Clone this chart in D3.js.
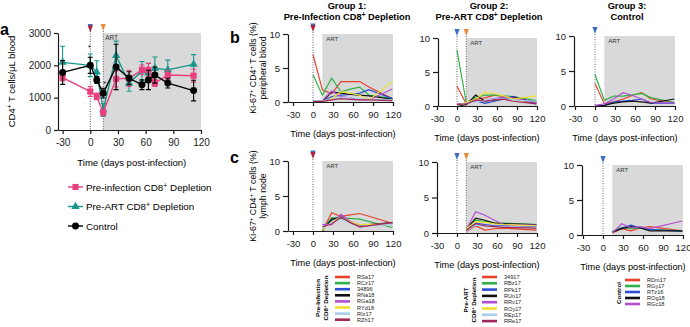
<!DOCTYPE html>
<html>
<head>
<meta charset="utf-8">
<script src="https://cdn.jsdelivr.net/npm/d3@7"></script>
<style>
  body { margin: 0; background: #fff; }
  svg text { font-family: "Liberation Sans", Arial, Helvetica, sans-serif; }
</style>
</head>
<body>
<script>
// ---- panel a: CD4 counts (mean +/- sem) ----
const aDays = [-30, 0, 7, 14, 28, 42, 56, 63, 70, 84, 112];
const aPreInf = [1620, 1190, 1040, 540, 1580, 1600, 1860, 1860, 1450, 1700, 1680];
const aPreInfErr = [100, 150, 100, 100, 250, 250, 150, 200, 100, 150, 200];
const aPreArt = [2090, 2000, 1790, 620, 2300, 1450, 1820, 1760, 1910, 1860, 2030];
const aPreArtErr = [500, 350, 350, 200, 450, 250, 300, 300, 350, 300, 300];
const aControl = [1780, 2000, 1550, 1140, 1950, 1600, 1400, 1550, 1700, 1450, 1220];
const aControlErr = [370, 250, 100, 150, 700, 200, 150, 300, 250, 150, 320];
const aTicksY = [0, 1000, 2000, 3000];
const dayTicks = [-30, 0, 30, 60, 90, 120];

// ---- panels b / c: Ki-67+ per animal ----
const bloodDays = [0, 14, 28, 42, 56, 70, 84, 119];
const lnDays = [14, 28, 42, 56, 70, 119];
const kiTicks = [0, 5, 10];

const g1Animals = ["RSa17", "RCz17", "34896", "RNa18", "RGa18", "RYd18", "RIz17", "RZh17"];
const g2Animals = ["34917", "RBz17", "RPk17", "RUn17", "RRv17", "ROy17", "REp17", "RRe17"];
const g3Animals = ["RDm17", "RGy17", "RTz16", "ROg18", "RGc18"];
const animalColors = ["#e8412c", "#2fb24a", "#2b4fd6", "#111111", "#b24fd3", "#f2e030", "#a9cdec", "#a3285a"];

const g1Blood = [
  [7.0, 1.8, 1.2, 3.0, 3.0, 3.0, 2.2, 0.5],
  [4.0, 1.0, 3.5, 1.5, 1.9, 2.2, 1.0, 0.5],
  [0.1, 0.1, 0.8, 1.0, 1.1, 1.3, 1.8, 0.5],
  [0.0, 0.0, 1.5, 1.3, 1.1, 1.0, 0.9, 0.4],
  [0.2, 0.2, 1.6, 0.8, 0.6, 0.4, 0.3, 1.9],
  [0.1, 0.1, 0.5, 1.5, 1.3, 1.0, 0.3, 3.0],
  [0.2, 0.2, 0.4, 0.7, 0.6, 0.5, 0.4, 0.3],
  [0.1, 0.1, 0.3, 0.5, 0.4, 0.3, 0.3, 0.2]
];
const g2Blood = [
  [2.9, 0.3, 1.0, 1.2, 1.6, 1.4, 1.1, 0.3],
  [8.2, 0.4, 1.3, 1.6, 1.6, 1.5, 1.4, 0.8],
  [0.1, 0.3, 0.8, 0.4, 0.7, 1.0, 1.4, 0.3],
  [0.0, 0.2, 1.6, 0.7, 0.9, 1.1, 1.3, 0.5],
  [0.3, 0.4, 0.7, 0.8, 1.1, 1.3, 1.2, 0.5],
  [0.1, 0.5, 1.0, 2.0, 1.8, 1.5, 1.0, 1.5],
  [0.1, 0.4, 0.6, 0.8, 1.0, 1.1, 0.9, 0.7],
  [0.2, 0.3, 0.9, 0.7, 0.9, 1.0, 0.7, 0.3]
];
const g3Blood = [
  [3.2, 0.3, 0.6, 1.0, 1.5, 1.9, 1.0, 0.5],
  [4.5, 0.8, 1.4, 1.4, 1.6, 1.8, 1.2, 0.5],
  [0.0, 0.1, 0.6, 0.7, 0.8, 1.0, 0.4, 0.4],
  [0.0, 0.1, 0.4, 0.6, 0.7, 0.6, 0.4, 1.0],
  [0.1, 0.3, 1.0, 1.9, 1.5, 1.0, 0.5, 0.4]
];
const g1LN = [
  [0.0, 2.6, 2.1, 2.3, 2.5, 1.1],
  [0.1, 1.9, 1.8, 1.8, 1.7, 0.5],
  [0.2, 1.5, 2.2, 1.2, 0.8, 1.1],
  [0.0, 1.7, 1.9, 1.3, 0.8, 1.2],
  [0.9, 0.9, 2.4, 1.4, 0.6, 1.2],
  [0.1, 1.3, 2.0, 1.3, 0.9, 1.0],
  [0.3, 1.2, 1.7, 1.1, 0.7, 0.9],
  [0.6, 1.0, 2.0, 1.2, 0.6, 1.2]
];
const g2LN = [
  [0.2, 1.0, 0.4, 0.6, 0.7, 0.4],
  [0.7, 1.8, 1.6, 1.4, 1.4, 1.2],
  [0.5, 1.4, 1.2, 1.0, 1.0, 0.9],
  [0.5, 2.1, 1.8, 1.4, 1.3, 1.2],
  [0.5, 3.0, 2.5, 1.8, 1.2, 1.1],
  [0.6, 1.6, 1.5, 1.3, 1.2, 1.0],
  [0.3, 1.1, 1.0, 0.9, 0.9, 0.8],
  [0.4, 1.3, 1.0, 0.9, 0.8, 0.7]
];
const g3LN = [
  [0.3, 0.9, 0.6, 1.0, 1.2, 0.6],
  [0.5, 1.1, 0.9, 1.0, 0.8, 0.6],
  [0.4, 1.0, 1.4, 1.0, 0.8, 0.5],
  [0.4, 0.9, 1.2, 1.0, 0.6, 0.6],
  [0.3, 1.6, 1.0, 1.2, 0.9, 2.0]
];

const FONT = '"Liberation Sans", Arial, Helvetica, sans-serif';
const RED_TRI = "#b0233f", BLUE_TRI = "#3f6fc2", ORANGE_TRI = "#e98a3c";
const GREY = "#d9d9d9";
const plain = d => String(d); // "-30" with hyphen, "3000" without comma

const svg = d3.select("body").append("svg")
  .attr("width", 690).attr("height", 327);

// text with {+} style superscripts
function rich(sel, str) {
  str.split(/\{(.*?)\}/).forEach((p, i) => {
    if (!p) return;
    const t = sel.append("tspan").text(p);
    if (i % 2) t.attr("baseline-shift", "super").attr("font-size", "70%");
  });
  return sel;
}

function styleAxis(g, fs) {
  g.attr("font-family", FONT).attr("font-size", fs);
  g.selectAll("path, line").attr("stroke", "#1a1a1a").attr("stroke-width", 1.2);
  g.selectAll("text").attr("fill", "#222");
}

function tri(x, top, color) {
  svg.append("path")
    .attr("d", `M${x - 2.6},${top}L${x + 2.6},${top}L${x},${top + 7}Z`)
    .attr("fill", color);
}

// ================= panel a =================
svg.append("text").attr("x", 0).attr("y", 35).attr("font-size", 16)
  .attr("font-weight", "bold").text("a");

const ax = d3.scaleLinear().domain([-35, 120]).range([58, 201]);
const ay = d3.scaleLinear().domain([0, 3000]).range([130, 33]);

svg.append("rect").attr("x", ax(14)).attr("y", ay(3000))
  .attr("width", ax(120) - ax(14)).attr("height", ay(0) - ay(3000)).attr("fill", GREY);
svg.append("text").attr("x", ax(14) + 2).attr("y", ay(3000) + 7)
  .attr("font-size", 6.5).attr("fill", "#333").text("ART");

[0, 14].forEach(d => {
  svg.append("line").attr("x1", ax(d)).attr("x2", ax(d)).attr("y1", 31).attr("y2", ay(0))
    .attr("stroke", "#444").attr("stroke-width", 0.9).attr("stroke-dasharray", "1,1.5");
});
tri(ax(0), 24, BLUE_TRI);
tri(ax(0), 25.5, RED_TRI);
tri(ax(14), 24, ORANGE_TRI);

svg.append("g").attr("transform", `translate(58,0)`)
  .call(d3.axisLeft(ay).tickValues(aTicksY).tickFormat(plain).tickSize(4).tickSizeOuter(0))
  .call(g => styleAxis(g, 10));
svg.append("g").attr("transform", `translate(0,${ay(0)})`)
  .call(d3.axisBottom(ax).tickValues(dayTicks).tickFormat(plain).tickSize(4).tickSizeOuter(0).tickPadding(5))
  .call(g => styleAxis(g, 10));

rich(svg.append("text").attr("transform", `translate(15,${(ay(0) + ay(3000)) / 2}) rotate(-90)`)
  .attr("text-anchor", "middle").attr("font-size", 9.5), "CD4{+} T cells/μL blood");
svg.append("text").attr("x", (ax(-30) + ax(120)) / 2).attr("y", 166)
  .attr("text-anchor", "middle").attr("font-size", 9.5).text("Time (days post-infection)");

svg.append("text").attr("x", ax(0) - 1).attr("y", 50).attr("font-size", 7)
  .attr("text-anchor", "middle").text("*");
svg.append("text").attr("x", ax(14) - 1).attr("y", 84).attr("font-size", 6)
  .attr("text-anchor", "middle").text("+ +");

const aSeries = [
  { name: "Pre-ART CD8{+} Depletion", vals: aPreArt, err: aPreArtErr, color: "#17968c", shape: d3.symbolTriangle, size: 30 },
  { name: "Pre-infection CD8{+} Depletion", vals: aPreInf, err: aPreInfErr, color: "#e8407e", shape: d3.symbolSquare, size: 38 },
  { name: "Control", vals: aControl, err: aControlErr, color: "#000", shape: d3.symbolCircle, size: 38 }
];

const aLine = d3.line().x(d => ax(d[0])).y(d => ay(d[1]));
aSeries.forEach(s => {
  const pts = aDays.map((d, i) => [d, s.vals[i], s.err[i]]);
  const g = svg.append("g");
  g.append("path").attr("d", aLine(pts)).attr("fill", "none")
    .attr("stroke", s.color).attr("stroke-width", 1.4);
  pts.forEach(p => {
    const x = ax(p[0]), y1 = ay(p[1] + p[2]), y2 = ay(p[1] - p[2]);
    g.append("path").attr("d", `M${x},${y1}V${y2}M${x - 2.5},${y1}H${x + 2.5}M${x - 2.5},${y2}H${x + 2.5}`)
      .attr("stroke", s.color).attr("stroke-width", 1.1).attr("fill", "none");
  });
  g.selectAll(null).data(pts).join("path")
    .attr("transform", p => `translate(${ax(p[0])},${ay(p[1])})`)
    .attr("d", d3.symbol(s.shape, s.size)).attr("fill", s.color);
});

// legend a
[aSeries[1], aSeries[0], aSeries[2]].forEach((s, i) => {
  const y = 187 + i * 19.5;
  svg.append("line").attr("x1", 68).attr("x2", 83).attr("y1", y).attr("y2", y)
    .attr("stroke", s.color).attr("stroke-width", 1.4);
  svg.append("path").attr("transform", `translate(75.5,${y})`)
    .attr("d", d3.symbol(s.shape, s.size)).attr("fill", s.color);
  rich(svg.append("text").attr("x", 86).attr("y", y + 3.5).attr("font-size", 9.8), s.name);
});

// ================= panels b and c =================
function smallPlot(o) {
  const pxDay = 80 / 120;
  const x = d3.scaleLinear().domain([(o.axisX - o.px0) / pxDay, 120]).range([o.axisX, o.px0 + 80]);
  const y = d3.scaleLinear().domain([0, 10]).range([o.y0, o.y10]);

  svg.append("rect").attr("x", x(14)).attr("y", y(10))
    .attr("width", x(120) - x(14)).attr("height", y(0) - y(10)).attr("fill", GREY);
  svg.append("text").attr("x", x(14) + 4).attr("y", y(10) + 7)
    .attr("font-size", 6).attr("fill", "#333").text("ART");

  o.dotted.forEach(d => {
    svg.append("line").attr("x1", x(d)).attr("x2", x(d)).attr("y1", y(10) - 2).attr("y2", y(0))
      .attr("stroke", "#555").attr("stroke-width", 0.9).attr("stroke-dasharray", "1,1.5");
  });
  o.tris.forEach(t => tri(x(t.d), y(10) - 9 + (t.off || 0), t.c));

  const line = d3.line().x(d => x(d[0])).y(d => y(d[1]));
  o.data.forEach((vals, i) => {
    svg.append("path").attr("d", line(o.days.map((d, j) => [d, vals[j]])))
      .attr("fill", "none").attr("stroke", animalColors[i]).attr("stroke-width", 1.2);
  });

  svg.append("g").attr("transform", `translate(${o.axisX},0)`)
    .call(d3.axisLeft(y).tickValues(kiTicks).tickFormat(plain).tickSize(5).tickSizeOuter(0))
    .call(g => styleAxis(g, 9.5));
  svg.append("g").attr("transform", `translate(0,${y(0)})`)
    .call(d3.axisBottom(x).tickValues(dayTicks).tickFormat(plain).tickSize(4).tickSizeOuter(0).tickPadding(5))
    .call(g => styleAxis(g, 9.5));

  svg.append("text").attr("x", x(45)).attr("y", y(0) + 35)
    .attr("text-anchor", "middle").attr("font-size", 9.2).text("Time (days post-infection)");

  if (o.title) {
    const cy = (y(0) + y(10)) / 2;
    rich(svg.append("text").attr("transform", `translate(${o.axisX - 32},${cy}) rotate(-90)`)
      .attr("text-anchor", "middle").attr("font-size", 8.8), o.title[0]);
    svg.append("text").attr("transform", `translate(${o.axisX - 22},${cy}) rotate(-90)`)
      .attr("text-anchor", "middle").attr("font-size", 8.8).text(o.title[1]);
  }
}

const kiTitle = "Ki-67{+} CD4{+} T cells (%)";
smallPlot({ days: bloodDays, data: g1Blood, px0: 313, axisX: 288, y0: 102, y10: 34, dotted: [0],
  tris: [{ d: 0, c: BLUE_TRI, off: -1.5 }, { d: 0, c: RED_TRI }], title: [kiTitle, "peripheral blood"] });
smallPlot({ days: bloodDays, data: g2Blood, px0: 457, axisX: 438, y0: 106, y10: 38, dotted: [0, 14],
  tris: [{ d: 0, c: BLUE_TRI }, { d: 14, c: ORANGE_TRI }] });
smallPlot({ days: bloodDays, data: g3Blood, px0: 595, axisX: 574, y0: 106, y10: 36, dotted: [0],
  tris: [{ d: 0, c: BLUE_TRI }] });
smallPlot({ days: lnDays, data: g1LN, px0: 313, axisX: 288, y0: 231, y10: 161, dotted: [0],
  tris: [{ d: 0, c: BLUE_TRI, off: -1.5 }, { d: 0, c: RED_TRI }], title: [kiTitle, "lymph node"] });
smallPlot({ days: lnDays, data: g2LN, px0: 457, axisX: 437, y0: 233, y10: 162, dotted: [0, 14],
  tris: [{ d: 0, c: BLUE_TRI }, { d: 14, c: ORANGE_TRI }] });
smallPlot({ days: lnDays, data: g3LN, px0: 603, axisX: 582, y0: 235, y10: 165, dotted: [0],
  tris: [{ d: 0, c: BLUE_TRI }] });

svg.append("text").attr("x", 230).attr("y", 43).attr("font-size", 16)
  .attr("font-weight", "bold").text("b");
svg.append("text").attr("x", 230).attr("y", 163).attr("font-size", 16)
  .attr("font-weight", "bold").text("c");

// group titles
[
  { x: 347, l1: "Group 1:", l2: "Pre-Infection CD8{+} Depletion" },
  { x: 489, l1: "Group 2:", l2: "Pre-ART CD8{+} Depletion" },
  { x: 627, l1: "Group 3:", l2: "Control" }
].forEach(t => {
  svg.append("text").attr("x", t.x).attr("y", 9).attr("text-anchor", "middle")
    .attr("font-size", 9.3).attr("font-weight", "bold").text(t.l1);
  rich(svg.append("text").attr("x", t.x).attr("y", 19.5).attr("text-anchor", "middle")
    .attr("font-size", 9.3).attr("font-weight", "bold"), t.l2);
});

// animal legends
function animalLegend(names, lx, ty, step, heads) {
  names.forEach((n, i) => {
    const y = ty + i * step;
    svg.append("line").attr("x1", lx).attr("x2", lx + 15).attr("y1", y).attr("y2", y)
      .attr("stroke", animalColors[i]).attr("stroke-width", 2.6);
    svg.append("text").attr("x", lx + 22).attr("y", y + 2).attr("font-size", 5.6)
      .attr("fill", "#222").text(n);
  });
  heads.forEach(h => {
    rich(svg.append("text").attr("transform", `translate(${h.x},${h.y}) rotate(-90)`)
      .attr("text-anchor", "middle").attr("font-size", 6.2).attr("font-weight", "bold"), h.t);
  });
}
animalLegend(g1Animals, 335, 277, 6.1, [
  { x: 320, y: 298, t: "Pre-Infection" }, { x: 328, y: 298, t: "CD8{+} Depletion" }]);
animalLegend(g2Animals, 482, 277, 6.3, [
  { x: 468, y: 300, t: "Pre-ART" }, { x: 476, y: 300, t: "CD8{+} Depletion" }]);
animalLegend(g3Animals, 625, 280, 6.0, [{ x: 621, y: 293, t: "Control" }]);
</script>
</body>
</html>
